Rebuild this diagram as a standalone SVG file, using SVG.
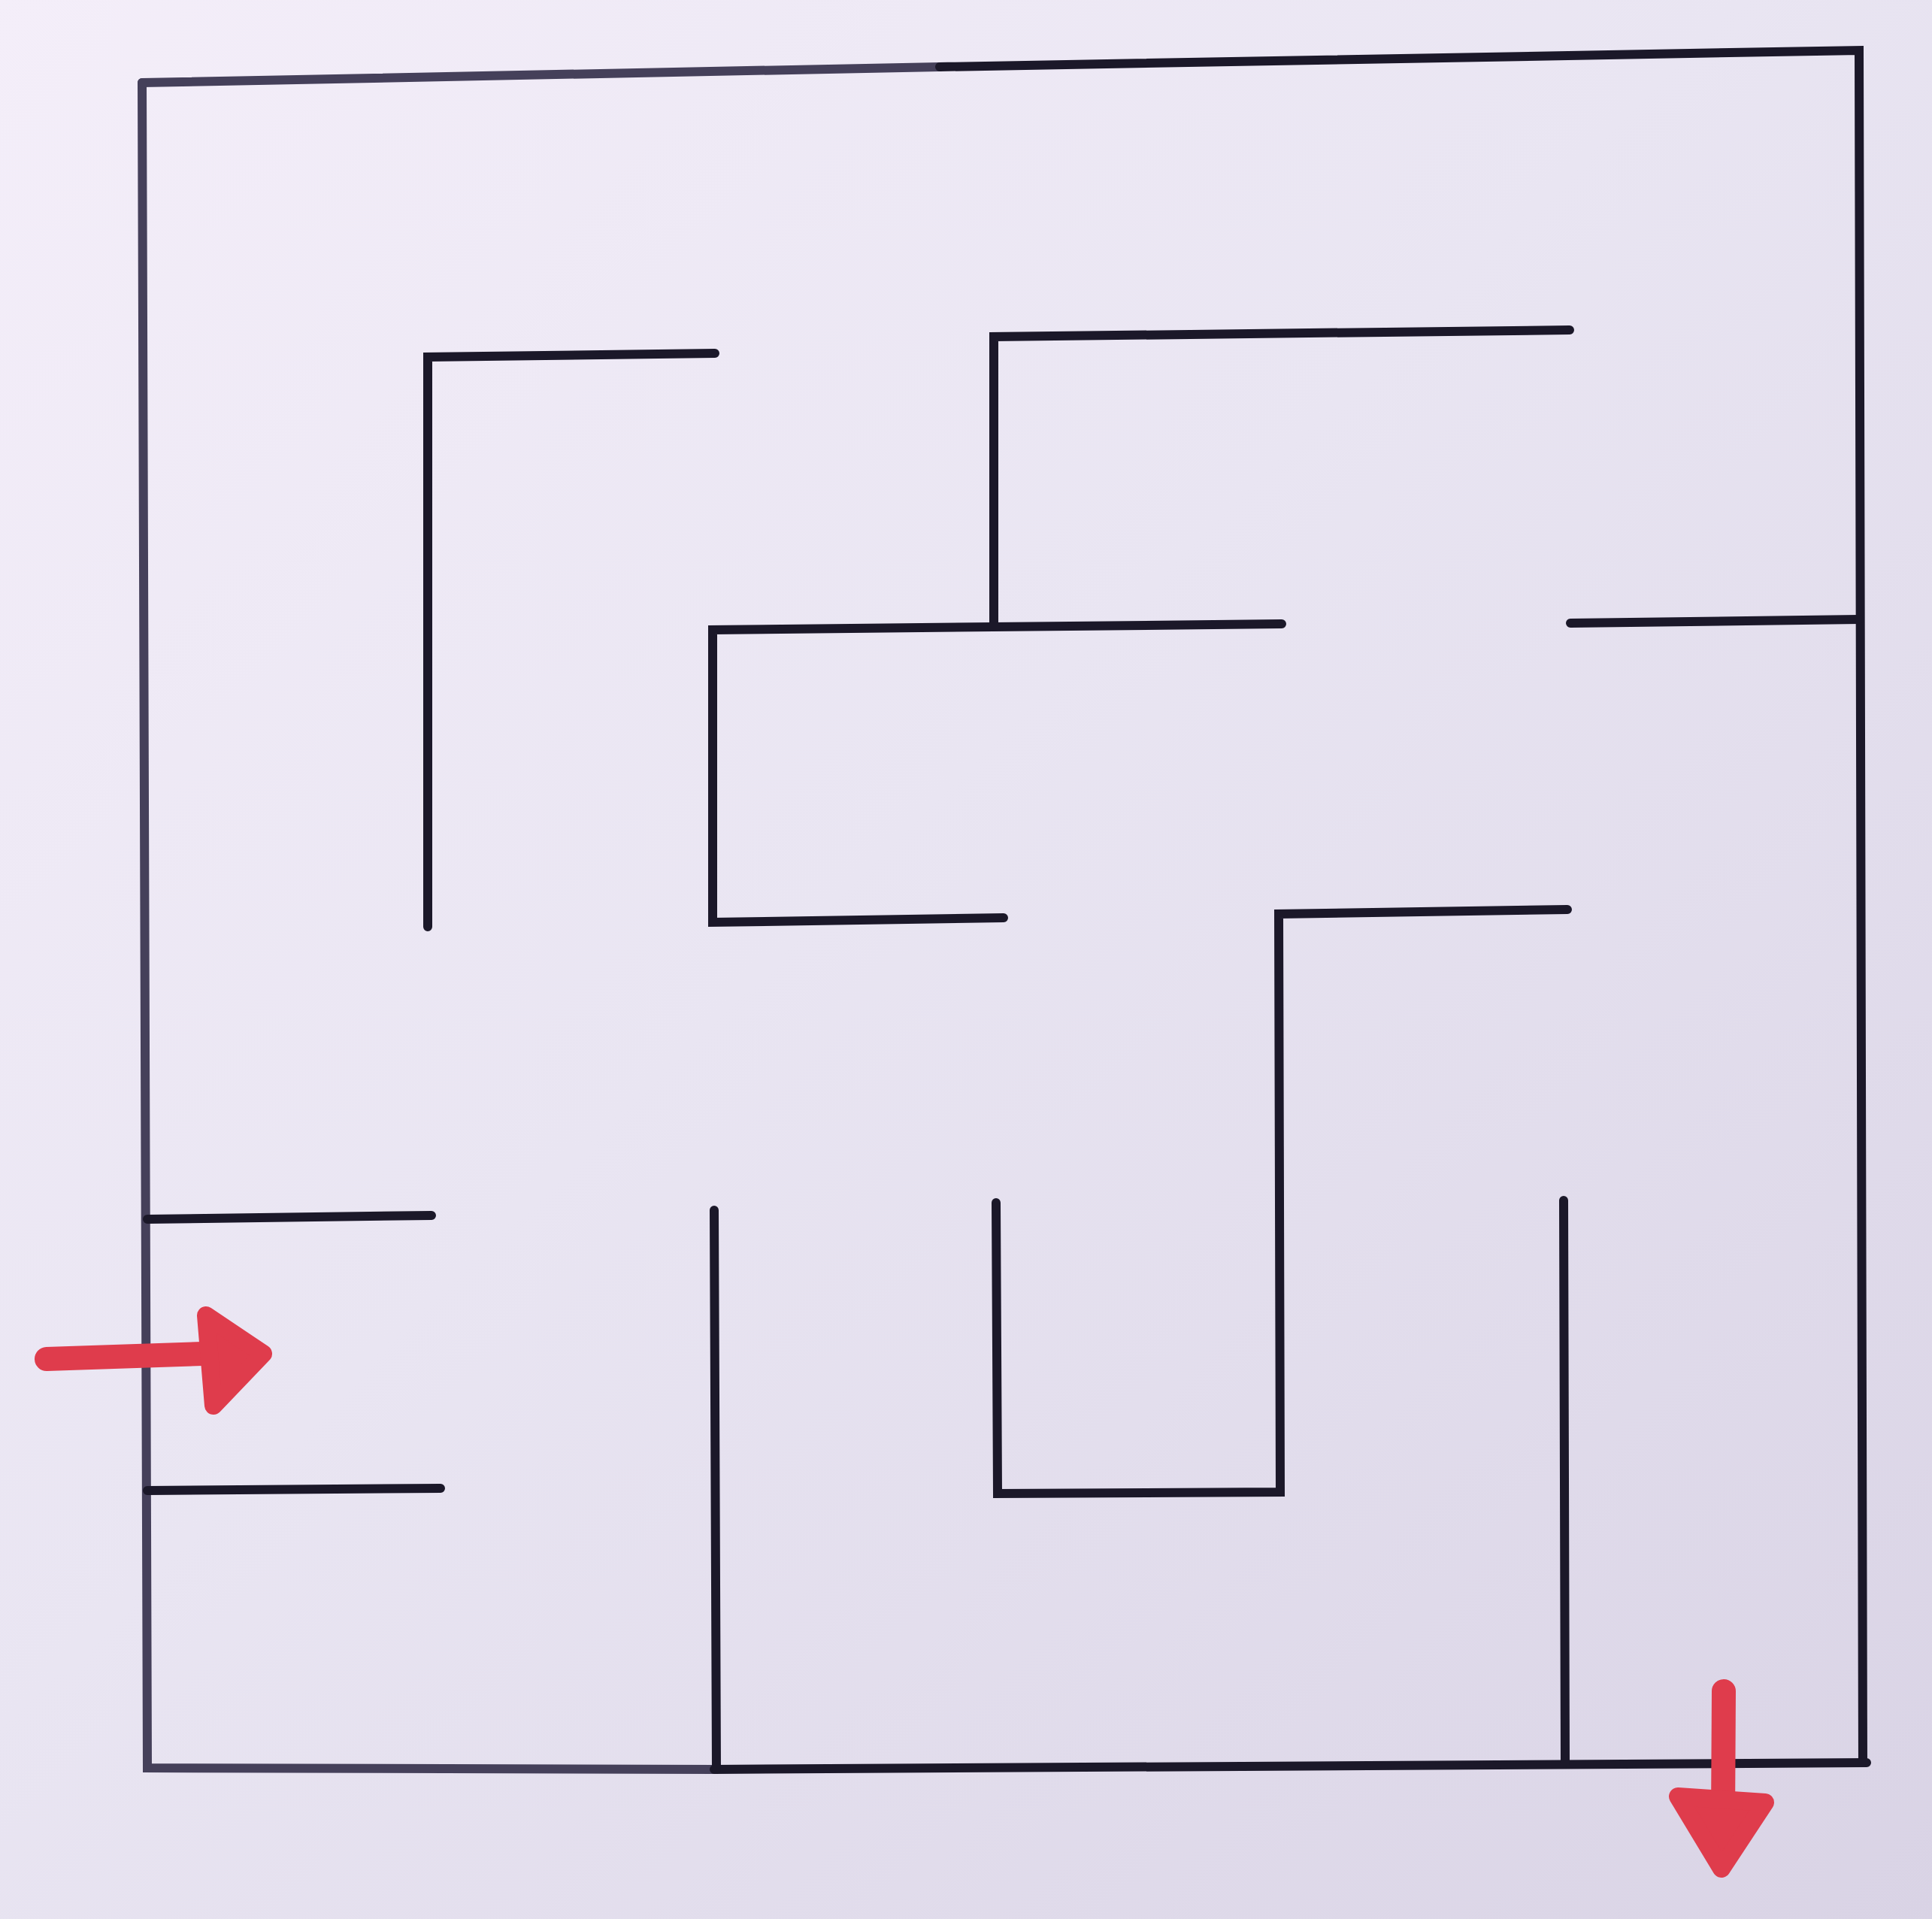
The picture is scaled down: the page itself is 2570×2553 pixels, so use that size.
<svg xmlns="http://www.w3.org/2000/svg" width="2570" height="2553" viewBox="0 0 2570 2553">
  <defs>
    <linearGradient id="paper" x1="0" y1="0" x2="1" y2="1">
      <stop offset="0" stop-color="#f4eef9"/>
      <stop offset="0.45" stop-color="#e9e5f2"/>
      <stop offset="1" stop-color="#d9d3e5"/>
    </linearGradient>
    <style>
      .wall { fill: none; stroke: #1b1829; stroke-width: 12; stroke-linecap: round; stroke-linejoin: miter; }
      .wall-soft { fill: none; stroke: #45405a; stroke-width: 12; stroke-linecap: round; stroke-linejoin: miter; }
      .arrow-shaft { fill: none; stroke: #df3c4c; stroke-width: 32; stroke-linecap: round; }
      .arrow-head { fill: #df3c4c; stroke: #df3c4c; stroke-width: 24; stroke-linejoin: round; }
    </style>
  </defs>

  <rect x="0" y="0" width="2570" height="2553" fill="url(#paper)"/>

  <g id="outer-walls">
    <path class="wall-soft" d="M 189 110 L 1250 89"/>
    <path class="wall" d="M 1250 89 L 2473 67 L 2478 2345"/>
    <path class="wall-soft" d="M 189 110 L 196 2352 L 950 2354"/>
    <path class="wall" d="M 950 2354 L 2483 2345"/>
  </g>

  <g id="inner-walls">
    <path id="wall-a" class="wall" d="M 951 470 L 569 475 L 569 1233"/>
    <path id="wall-b" class="wall" d="M 2088 439 L 1322 448 L 1322 833"/>
    <path id="wall-c" class="wall" d="M 1705 830 L 948 838 L 948 1227 L 1335 1221"/>
    <path id="wall-d" class="wall" d="M 2089 829 L 2473 824"/>
    <path id="wall-e" class="wall" d="M 2085 1210 L 1701 1216 L 1703 1985 L 1327 1987 L 1325 1600"/>
    <path id="wall-f" class="wall" d="M 196 1622 L 574 1617"/>
    <path id="wall-g" class="wall" d="M 196 1983 L 586 1980"/>
    <path id="wall-h" class="wall" d="M 950 1610 L 953 2354"/>
    <path id="wall-i" class="wall" d="M 2080 1597 L 2082 2345"/>
  </g>

  <g id="entrance-arrow">
    <path class="arrow-shaft" d="M 62 1808 L 300 1800"/>
    <polygon class="arrow-head" points="274,1750 350,1801 284,1870"/>
  </g>

  <g id="exit-arrow">
    <path class="arrow-shaft" d="M 2293 2250 L 2292 2420"/>
    <polygon class="arrow-head" points="2232,2390 2348,2398 2290,2486"/>
  </g>
</svg>
